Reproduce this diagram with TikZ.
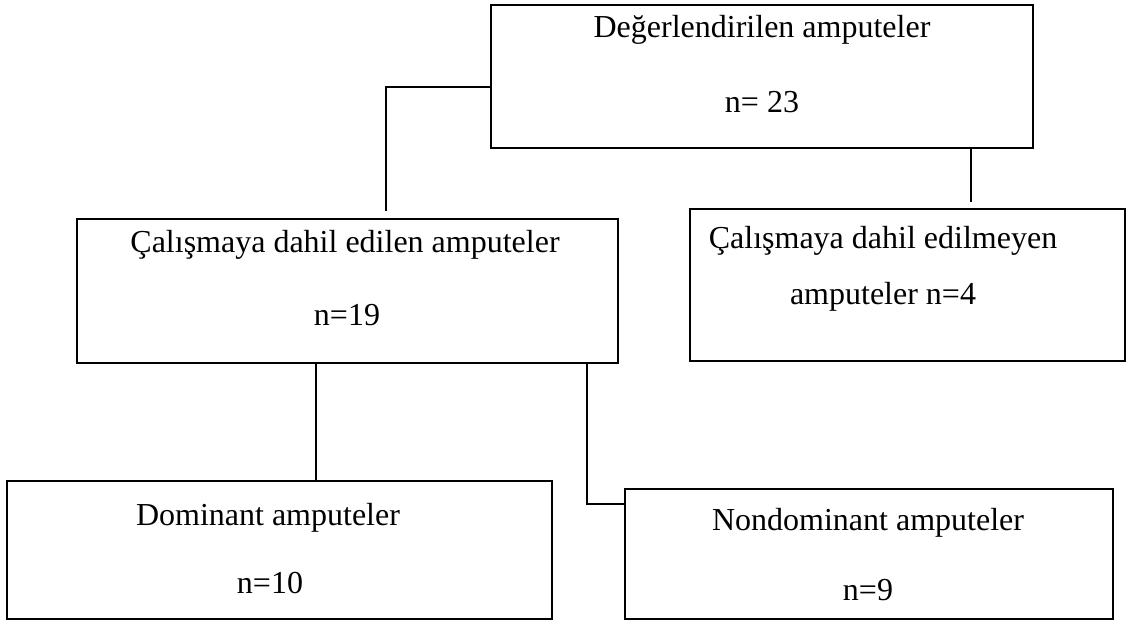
\documentclass[tikz,border=0pt]{standalone}
\usepackage{fontspec}
\setmainfont{Liberation Serif}
\usepackage{tikz}
\usetikzlibrary{positioning, calc}

\tikzset{
  box/.style={draw, rectangle, line width=1pt, inner sep=0pt},
  thinbox/.style={box, line width=0.65pt},
  link/.style={draw, line width=0.65pt},
  lbl/.style={font=\fontsize{16}{19}\selectfont, inner sep=0pt}
}

\begin{document}
\begin{tikzpicture}[x=0.5pt, y=-0.5pt]
  \useasboundingbox (0,0) rectangle (1128,620);

  % boxes
  \node[box, minimum width=271pt, minimum height=71.5pt] (top) at (762,76.5) {};
  \node[box, minimum width=270.5pt, minimum height=72pt] (incl) at (347.5,291) {};
  \node[box, minimum width=217.5pt, minimum height=76pt] (excl) at (907.5,285) {};
  \node[thinbox, minimum width=272.5pt, minimum height=69pt] (dom) at (279.5,550) {};
  \node[thinbox, minimum width=244pt, minimum height=65pt] (nondom) at (869,554) {};

  % texts
  \node[lbl] (topA) at (762,30) {Değerlendirilen amputeler};
  \node[lbl] (topB) at (762,102) {n= 23};
  \node[lbl] (inclA) at (345,245) {Çalışmaya dahil edilen amputeler};
  \node[lbl] (inclB) at (347,315) {n=19};
  \node[lbl] (exclA) at (883,241) {Çalışmaya dahil edilmeyen};
  \node[lbl] (exclB) at (883,297) {amputeler n=4};
  \node[lbl] (domA) at (268,518) {Dominant amputeler};
  \node[lbl] (domB) at (270,583) {n=10};
  \node[lbl] (nondomA) at (868,523) {Nondominant amputeler};
  \node[lbl] (nondomB) at (868,590) {n=9};

  % connectors
  \draw[link, shorten >=3.5pt] ([yshift=-5.25pt]top.west) -| ([xshift=19.25pt]incl.north);
  \draw[link, shorten >=3pt] ([xshift=104.5pt]top.south) -- ([xshift=104.5pt]top.south |- excl.north);
  \draw[link] ([xshift=-15.75pt]incl.south) -- ([xshift=-15.75pt]incl.south |- dom.north);
  \draw[link] ([xshift=119.75pt]incl.south) |- ([yshift=25pt]nondom.west);
\end{tikzpicture}
\end{document}
